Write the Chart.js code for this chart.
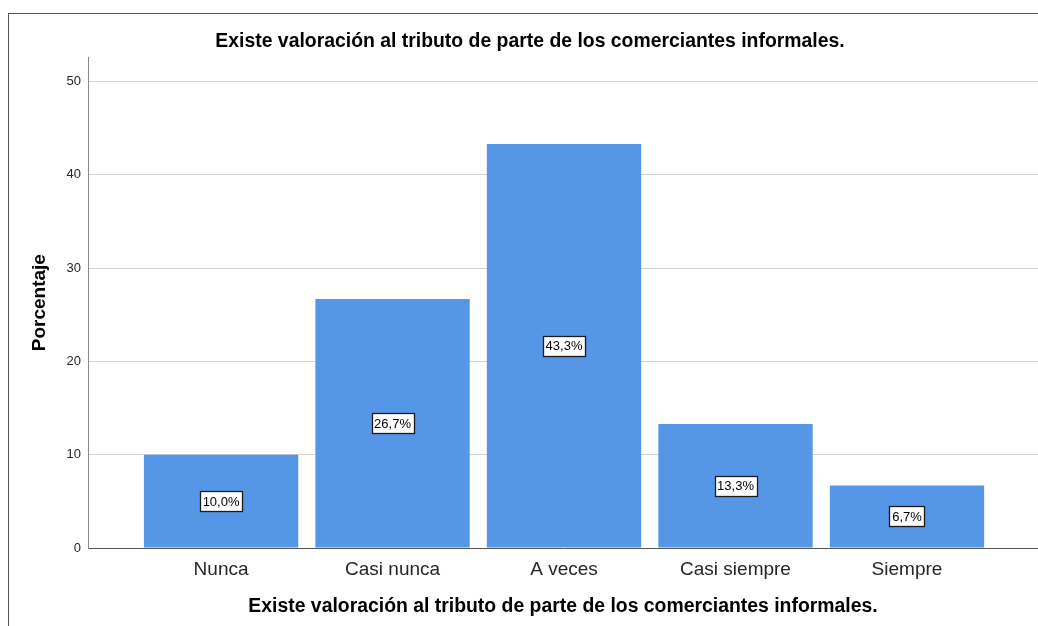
<!DOCTYPE html>
<html>
<head>
<meta charset="utf-8">
<script src="https://cdn.jsdelivr.net/npm/chart.js@4.4.0/dist/chart.umd.min.js"></script>
<style>
body { margin: 0; background: #fff; }
#wrap { position: relative; width: 1038px; height: 626px; overflow: hidden; }
#frame { position: absolute; left: 8px; top: 13px; width: 1100px; height: 700px; border: 1px solid #555; }
canvas { position: absolute; left: 0; top: 0; }
</style>
</head>
<body>
<div id="wrap">
    <div id="frame"></div>
    <canvas id="myChart" width="1038" height="626"></canvas>
</div>
<script>
const categorias = ['Nunca', 'Casi nunca', 'A veces', 'Casi siempre', 'Siempre'];
const porcentajes = [10.0, 26.7, 43.3, 13.3, 6.7];
const ticksY = [0, 10, 20, 30, 40, 50];
const titulo = 'Existe valoración al tributo de parte de los comerciantes informales.';

Chart.defaults.font.family = '"Liberation Sans", Arial, sans-serif';
Chart.defaults.color = '#262626';

// cajitas con el porcentaje en medio de cada barra
const etiquetasBarras = {
    id: 'etiquetasBarras',
    afterDatasetsDraw(chart) {
        const ctx = chart.ctx;
        const meta = chart.getDatasetMeta(0);
        ctx.save();
        ctx.font = '13px "Liberation Sans", Arial, sans-serif';
        ctx.textAlign = 'center';
        ctx.textBaseline = 'middle';
        meta.data.forEach((bar, i) => {
            const txt = porcentajes[i].toFixed(1).replace('.', ',') + '%';
            const cx = bar.x;
            const cy = (bar.y + bar.base) / 2;
            const w = Math.round(ctx.measureText(txt).width + 5);
            const h = 20;
            const x0 = Math.round(cx - w / 2) + 0.5;
            const y0 = Math.round(cy - h / 2) + 0.5;
            ctx.fillStyle = '#fff';
            ctx.fillRect(x0, y0, w, h);
            ctx.strokeStyle = '#1a1a1a';
            ctx.lineWidth = 1.3;
            ctx.strokeRect(x0, y0, w, h);
            ctx.fillStyle = '#000';
            ctx.fillText(txt, cx, cy + 1);
        });
        ctx.restore();
    }
};

const ctx1 = document.getElementById('myChart');

new Chart(ctx1, {
    type: 'bar',
    data: {
        datasets: [{
            data: porcentajes.map((v, i) => ({ x: i, y: v })),
            backgroundColor: '#5596e6',
            categoryPercentage: 1,
            barPercentage: 0.9
        }]
    },
    plugins: [etiquetasBarras],
    options: {
        responsive: false,
        animation: false,
        layout: { padding: { left: 22, right: 0, top: 0, bottom: 0 } },
        plugins: {
            legend: { display: false },
            tooltip: { enabled: false },
            title: {
                display: true,
                text: titulo,
                color: '#000',
                font: { size: 19.4, weight: 'bold' },
                padding: { top: 30, bottom: 4 }
            }
        },
        scales: {
            x: {
                type: 'linear',
                offset: false,
                min: -0.776,
                max: 4.764,
                afterBuildTicks: (scale) => {
                    scale.ticks = categorias.map((c, i) => ({ value: i }));
                },
                afterFit: (scale) => { scale.height = 78; },
                ticks: {
                    autoSkip: false,
                    maxRotation: 0,
                    padding: 10,
                    font: { size: 19 },
                    callback: (v) => categorias[v]
                },
                grid: { display: false, drawTicks: false, offset: false },
                border: { display: true, color: '#555', width: 1 },
                title: {
                    display: true,
                    text: titulo,
                    color: '#000',
                    font: { size: 19.4, weight: 'bold' },
                    padding: { top: 0, bottom: 8 }
                }
            },
            y: {
                min: 0,
                max: 52.6,
                afterBuildTicks: (scale) => {
                    scale.ticks = ticksY.map(v => ({ value: v }));
                },
                afterFit: (scale) => { scale.width = 66; },
                ticks: {
                    padding: 7,
                    font: { size: 13 }
                },
                grid: { color: '#d2d2d2', drawTicks: false },
                border: { display: true, color: '#8a8a8a', width: 1 },
                title: {
                    display: true,
                    text: 'Porcentaje',
                    color: '#000',
                    font: { size: 19, weight: 'bold' },
                    padding: { top: 6, bottom: 0 }
                }
            }
        }
    }
});
</script>
</body>
</html>
